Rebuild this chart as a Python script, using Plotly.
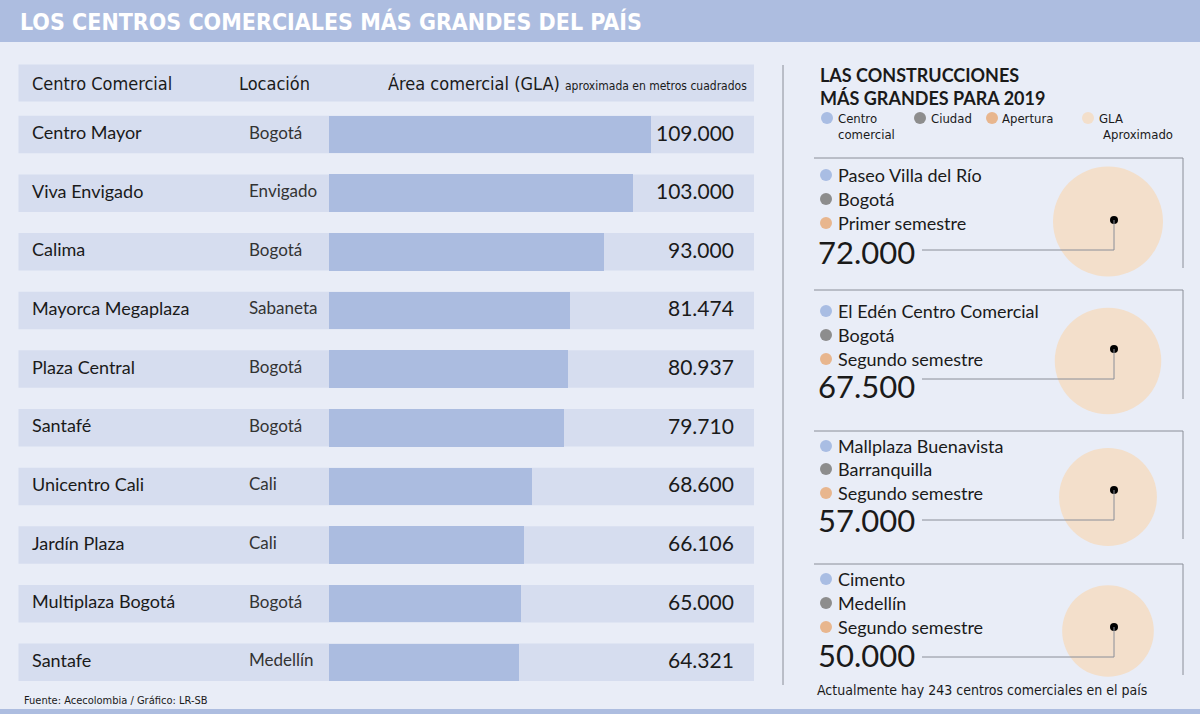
import plotly.graph_objects as go

# ---------------- data ----------------
centros = ["Centro Mayor", "Viva Envigado", "Calima", "Mayorca Megaplaza", "Plaza Central",
           "Santafé", "Unicentro Cali", "Jardín Plaza", "Multiplaza Bogotá", "Santafe"]
locaciones = ["Bogotá", "Envigado", "Bogotá", "Sabaneta", "Bogotá",
              "Bogotá", "Cali", "Cali", "Bogotá", "Medellín"]
gla = [109000, 103000, 93000, 81474, 80937, 79710, 68600, 66106, 65000, 64321]
gla_labels = ["109.000", "103.000", "93.000", "81.474", "80.937",
              "79.710", "68.600", "66.106", "65.000", "64.321"]

nuevos = ["Paseo Villa del Río", "El Edén Centro Comercial", "Mallplaza Buenavista", "Cimento"]
nuevos_ciudad = ["Bogotá", "Bogotá", "Barranquilla", "Medellín"]
nuevos_apertura = ["Primer semestre", "Segundo semestre", "Segundo semestre", "Segundo semestre"]
nuevos_gla = [72000, 67500, 57000, 50000]
nuevos_labels = ["72.000", "67.500", "57.000", "50.000"]

# ---------------- style / layout constants ----------------
W, H = 1200, 714
BG = "#e9edf7"
BAND = "#adbde0"
ROWBG = "#d6ddef"
BAR = "#abbce0"
BLUE_DOT = "#a9bde3"
GRAY_DOT = "#8d8d8d"
ORANGE_DOT = "#e8b68e"
PEACH = "#f3dfcb"
LINE = "#8a8e98"
TXT = "#1a1a1a"

BODY = "Lato, 'Open Sans', sans-serif"
COND = "'Liberation Sans Narrow', 'Arial Narrow', 'DejaVu Sans Condensed', sans-serif"

ROW0, PITCH, ROWH = 134.5, 58.65, 37.5
BAR0_PX = 329.0
K = 322.0 / 109000.0  # px per m2
TXT_SHIFT = -2.5 / PITCH  # row text sits slightly above row centre

def px(x):
    return x / W

def py(y):
    return 1 - y / H

fig = go.Figure()

# bars (main x/y axes)
rows = list(range(len(centros)))
fig.add_trace(go.Bar(
    x=gla, y=rows, base=0, orientation="h", width=ROWH / PITCH,
    marker=dict(color=BAR, line=dict(width=0)), hoverinfo="skip", showlegend=False,
))

shapes = []
ann = []

# title band and bottom band
shapes.append(dict(type="rect", xref="paper", yref="paper", x0=0, x1=1, y0=py(42), y1=1,
                   fillcolor=BAND, line=dict(width=0), layer="below"))
shapes.append(dict(type="rect", xref="paper", yref="paper", x0=0, x1=1, y0=0, y1=py(709),
                   fillcolor=BAND, line=dict(width=0), layer="below"))
ann.append(dict(text="<b>LOS CENTROS COMERCIALES MÁS GRANDES DEL PAÍS</b>", x=px(18), y=py(21),
                xanchor="left", yanchor="middle", font=dict(family=COND, size=23, color="white")))

# header row
shapes.append(dict(type="rect", xref="paper", yref="paper", x0=px(18.5), x1=px(754),
                   y0=py(101.5), y1=py(64.5), fillcolor=ROWBG, line=dict(width=0), layer="below"))
ann.append(dict(text="Centro Comercial", x=px(30), y=py(83), xanchor="left", yanchor="middle",
                font=dict(family=COND, size=18, color=TXT)))
ann.append(dict(text="Locación", x=px(237), y=py(83), xanchor="left", yanchor="middle",
                font=dict(family=COND, size=18, color=TXT)))
ann.append(dict(text="Área comercial (GLA) <span style='font-size:12px'>aproximada en metros cuadrados</span>",
                x=px(749), y=py(83), xanchor="right", yanchor="middle",
                font=dict(family=COND, size=18, color=TXT)))

# row backgrounds + texts
for i, (c, l, lab) in enumerate(zip(centros, locaciones, gla_labels)):
    shapes.append(dict(type="rect", xref="paper", yref="y", x0=px(18.5), x1=px(754),
                       y0=i - ROWH / PITCH / 2, y1=i + ROWH / PITCH / 2,
                       fillcolor=ROWBG, line=dict(width=0), layer="below"))
    ann.append(dict(text=c, x=px(30), y=i + TXT_SHIFT, yref="y", xanchor="left", yanchor="middle",
                    font=dict(family=BODY, size=18, color=TXT)))
    ann.append(dict(text=l, x=px(247), y=i + TXT_SHIFT, yref="y", xanchor="left", yanchor="middle",
                    font=dict(family=BODY, size=17, color="#333333")))
    ann.append(dict(text=lab, x=px(736), y=i + TXT_SHIFT, yref="y", xanchor="right", yanchor="middle",
                    font=dict(family=BODY, size=21, color=TXT)))

ann.append(dict(text="Fuente: Acecolombia / Gráfico: LR-SB", x=px(22), y=py(700), xanchor="left",
                yanchor="middle", font=dict(family=COND, size=11, color=TXT)))

# ---------------- right panel (pixel axes x2/y2) ----------------
shapes.append(dict(type="line", xref="x2", yref="y2", x0=783, x1=783, y0=65, y1=685,
                   line=dict(color=LINE, width=1)))
ann.append(dict(text="<b>LAS CONSTRUCCIONES<br>MÁS GRANDES PARA 2019</b>", x=818, y=86,
                xref="x2", yref="y2", xanchor="left", yanchor="middle", align="left",
                font=dict(family=BODY, size=18, color=TXT)))

# legend
leg_x = [827, 920, 992, 1088]
leg_col = [BLUE_DOT, GRAY_DOT, ORANGE_DOT, PEACH]
fig.add_trace(go.Scatter(x=leg_x, y=[118] * 4, xaxis="x2", yaxis="y2", mode="markers",
                         marker=dict(size=12, color=leg_col, line=dict(width=0)),
                         hoverinfo="skip", showlegend=False))
for t, x, y in [("Centro", 836, 118), ("comercial", 836, 134), ("Ciudad", 929, 118),
                ("Apertura", 1000, 118), ("GLA", 1097, 118), ("Aproximado", 1101, 134)]:
    ann.append(dict(text=t, x=x, y=y, xref="x2", yref="y2", xanchor="left", yanchor="middle",
                    font=dict(family=COND, size=13, color=TXT)))

box_top = [158, 290, 431, 564]
box_bot = [268, 399, 539, 675]
item_y = [[175, 199, 223], [311, 335, 359], [446, 469, 493], [579, 603, 627]]
val_y = [252, 386, 520, 655]
circ_y = [221.5, 361, 497, 631]
dot_y = [220, 349, 490, 627]
conn_y = [250, 379, 520, 657]
CX, DX = 1108, 1114

# circles sized by GLA (area proportional)
max_d = 110
sizes = [max_d * (v / nuevos_gla[0]) ** 0.5 for v in nuevos_gla]
fig.add_trace(go.Scatter(x=[CX] * 4, y=circ_y, xaxis="x2", yaxis="y2", mode="markers",
                         marker=dict(size=sizes, color=PEACH, line=dict(width=0), opacity=1),
                         hoverinfo="skip", showlegend=False))

bul_x, bul_y, bul_c = [], [], []
for b in range(4):
    shapes.append(dict(type="line", xref="x2", yref="y2", x0=814, x1=1183, y0=box_top[b], y1=box_top[b],
                       line=dict(color=LINE, width=1)))
    shapes.append(dict(type="line", xref="x2", yref="y2", x0=1183, x1=1183, y0=box_top[b], y1=box_bot[b],
                       line=dict(color=LINE, width=1)))
    shapes.append(dict(type="path", xref="x2", yref="y2",
                       path=f"M 922 {conn_y[b]} L {DX} {conn_y[b]} L {DX} {dot_y[b]}",
                       line=dict(color=LINE, width=1)))
    texts = [nuevos[b], nuevos_ciudad[b], nuevos_apertura[b]]
    for j, (t, c) in enumerate(zip(texts, [BLUE_DOT, GRAY_DOT, ORANGE_DOT])):
        bul_x.append(826)
        bul_y.append(item_y[b][j])
        bul_c.append(c)
        ann.append(dict(text=t, x=836, y=item_y[b][j], xref="x2", yref="y2", xanchor="left",
                        yanchor="middle", font=dict(family=BODY, size=18, color=TXT)))
    ann.append(dict(text=nuevos_labels[b], x=816, y=val_y[b], xref="x2", yref="y2", xanchor="left",
                    yanchor="middle", font=dict(family=BODY, size=31, color=TXT)))

fig.add_trace(go.Scatter(x=bul_x, y=bul_y, xaxis="x2", yaxis="y2", mode="markers",
                         marker=dict(size=12, color=bul_c, line=dict(width=0)),
                         hoverinfo="skip", showlegend=False))
fig.add_trace(go.Scatter(x=[DX] * 4, y=dot_y, xaxis="x2", yaxis="y2", mode="markers",
                         marker=dict(size=8, color="black", line=dict(width=0)),
                         hoverinfo="skip", showlegend=False))

ann.append(dict(text="Actualmente hay 243 centros comerciales en el país", x=815, y=690,
                xref="x2", yref="y2", xanchor="left", yanchor="middle",
                font=dict(family=COND, size=14, color=TXT)))

for a in ann:
    a.setdefault("xref", "paper")
    a.setdefault("yref", "paper")
    a["showarrow"] = False

fig.update_layout(
    width=W, height=H, margin=dict(l=0, r=0, t=0, b=0),
    paper_bgcolor=BG, plot_bgcolor="rgba(0,0,0,0)",
    xaxis=dict(range=[-BAR0_PX / K, (W - BAR0_PX) / K], visible=False, fixedrange=True, domain=[0, 1]),
    yaxis=dict(range=[(H - ROW0) / PITCH, -ROW0 / PITCH], visible=False, fixedrange=True, domain=[0, 1]),
    xaxis2=dict(range=[0, W], visible=False, fixedrange=True, overlaying="x", anchor="y2", domain=[0, 1]),
    yaxis2=dict(range=[H, 0], visible=False, fixedrange=True, overlaying="y", anchor="x2", domain=[0, 1]),
    shapes=shapes, annotations=ann, bargap=0,
)

fig.write_html("out.html", config={"displayModeBar": False},
               post_script="document.body.style.margin='0px';document.body.style.overflow='hidden';")
